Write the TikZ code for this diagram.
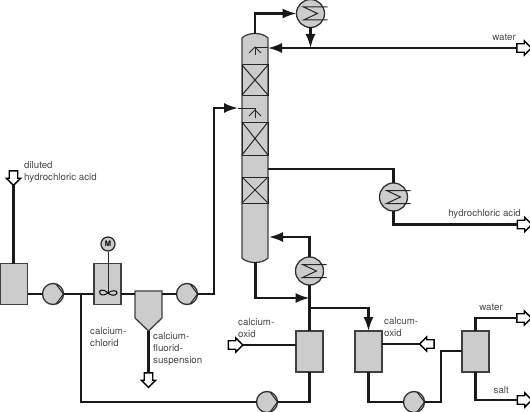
\documentclass[tikz,border=0pt]{standalone}
\usepackage{fontspec}
\setmainfont{TeX Gyre Heros}
\usetikzlibrary{positioning,arrows.meta,calc,shapes.arrows}
\definecolor{vesselgray}{RGB}{204,204,204}
\definecolor{labelgray}{RGB}{70,70,70}
\tikzset{
  pipe/.style={line width=2.1pt,black!90},
  feedpipe/.style={pipe,-{Latex[length=14pt,width=10pt]}},
  thinline/.style={line width=1pt,black!85},
  vessel/.style={draw=black!75,line width=1.3pt,fill=vesselgray,minimum width=27pt,minimum height=41pt,inner sep=0pt,outer sep=0pt},
  exchanger/.style={circle,draw=black!80,line width=1.3pt,fill=vesselgray,minimum size=28pt,inner sep=0pt,outer sep=0pt},
  pumpbody/.style={circle,draw=black!80,line width=1.3pt,fill=vesselgray,minimum size=21pt,inner sep=0pt,outer sep=0pt},
  openarrow/.style={single arrow,draw=black,fill=white,line width=1.3pt,inner sep=3.6pt,minimum height=14.5pt,minimum width=13pt,single arrow head extend=2.8pt,outer sep=0pt},
  streamlabel/.style={font=\fontsize{9.7}{12}\selectfont,text=labelgray,align=left,inner sep=0pt}
}
\begin{document}
\begin{tikzpicture}[x=1pt,y=-1pt]
  \useasboundingbox (0,0) rectangle (530,412);

  % Column
  \filldraw[fill=vesselgray,draw=black!75,line width=1.3pt]
    (242,38) .. controls (248,32) and (262,32) .. (268,38) -- (268,258)
    .. controls (262,264) and (248,264) .. (242,258) -- cycle;
  \foreach \a/\b in {65/95,122/155,177/203}{
    \draw[thinline] (242,\a) rectangle (268,\b);
    \draw[thinline] (242,\a) -- (268,\b) (242,\b) -- (268,\a);
  }
  \coordinate (columntop) at (255,34);
  \coordinate (columnbottom) at (255.5,262);
  \coordinate (refluxin) at (268,48);
  \coordinate (feedin) at (242,108);
  \coordinate (sidedraw) at (268,169);
  \coordinate (boilin) at (269,237);

  % Distributors
  \foreach \c in {50,113}{
    \draw[thinline] (255,\c+5) -- (255,\c-3);
    \draw[thinline] (249,\c+3) -- (255,\c-3) -- (261,\c+3);
  }
  \draw[thinline] (refluxin) -- (255,48) -- (255,50);
  \draw[thinline] (feedin) -- (255,108) -- (255,110);

  % Vessels
  \node (feedtank) [vessel] at (14,284) {};
  \node (mixer) [vessel] at (107.5,284) {};
  \node (reactora) [vessel] at (309.5,351.5) {};
  \node (reactorb) [vessel] at (368.5,351.5) {};
  \node (reactorc) [vessel] at (475.5,351.5) {};

  % Settler
  \filldraw[fill=vesselgray,draw=black!75,line width=1.3pt]
    (135,291) -- (162,291) -- (162,318) -- (148.5,331) -- (135,318) -- cycle;
  \coordinate (settlerin) at (135,294);
  \coordinate (settlerout) at (162,294);
  \coordinate (settlertip) at (148.5,331);

  % Exchangers and pumps
  \node (condenser) [exchanger] at (310.5,13.5) {};
  \node (cooler) [exchanger] at (393.5,197) {};
  \node (reboiler) [exchanger] at (309.5,271) {};
  \node (pumpa) [pumpbody] at (53,294) {};
  \node (pumpb) [pumpbody] at (187,294) {};
  \node (pumpc) [pumpbody] at (267,402) {};
  \node (pumpd) [pumpbody] at (414,402) {};
  \foreach \e in {condenser,cooler,reboiler}{
    \draw[thinline] ($(\e)+(17,-6.5)$) -- ($(\e)+(-7,-6.5)$) -- ($(\e)+(7,0)$)
      -- ($(\e)+(-7,6.5)$) -- ($(\e)+(17,6.5)$);
  }
  \foreach \p in {pumpa,pumpb,pumpc,pumpd}{
    \draw[thinline] ($(\p)+(3,-10)$) -- (\p.east) -- ($(\p)+(3,10)$);
  }

  % Agitator
  \node (motor) [circle,draw=black!85,line width=1.2pt,fill=vesselgray,minimum size=14pt,inner sep=0pt,font=\fontsize{7.5}{8}\selectfont\bfseries] at (108,244) {M};
  \coordinate (impeller) at (108,293);
  \draw[thinline] (motor.south) -- (impeller);
  \draw[line width=1pt,black] (impeller)
    .. controls (103,288) and (98,290) .. (100,293.5) .. controls (102,296) and (105,295) .. (impeller)
    .. controls (111,290) and (118,290) .. (117,293) .. controls (116,296) and (111,296) .. (impeller);

  % Open arrows
  \node (acidin) [openarrow,shape border rotate=270] at (13.5,176) {};
  \node (suspout) [openarrow,shape border rotate=270] at (148.5,378) {};
  \node (wateroutA) [openarrow] at (522,48) {};
  \node (acidout) [openarrow] at (522.5,224.5) {};
  \node (oxidinA) [openarrow] at (233.5,345) {};
  \node (oxidinB) [openarrow,shape border rotate=180] at (429,344) {};
  \node (wateroutB) [openarrow] at (522,318) {};
  \node (saltout) [openarrow] at (522.5,400) {};

  % Left part
  \draw[pipe] (acidin.tip) -- (feedtank.north -| acidin.tip);
  \draw[pipe] (feedtank.east |- pumpa) -- (pumpa.west);
  \draw[pipe] (pumpa.east) -- (mixer.west |- pumpa);
  \draw[pipe] (mixer.east |- settlerin) -- (settlerin);
  \draw[pipe] (settlerout) -- (pumpb.west);
  \draw[pipe] (settlertip) -- (suspout.tail);
  \coordinate (branch) at (81,294);
  \draw[pipe] (branch) |- (pumpc.west);
  \draw[feedpipe] (pumpb.east) -- (214,294) |- (238,108);
  \draw[thinline] (238,108) -- (feedin);

  % Column periphery
  \draw[feedpipe] (columntop) |- (condenser.west);
  \coordinate (refluxjoin) at (condenser.south |- refluxin);
  \draw[feedpipe] (condenser.south) -- (refluxjoin);
  \draw[feedpipe] (wateroutA.tail) -- (refluxin);
  \draw[pipe] (sidedraw) -| (cooler.north);
  \draw[pipe] (cooler.south) |- (acidout.tail);
  \draw[feedpipe] (reboiler.north) |- (boilin);
  \coordinate (reboilerjoin) at (reboiler.south |- 0,298);
  \draw[feedpipe] (columnbottom) |- (reboilerjoin);
  \draw[pipe] (reboiler.south) -- (reactora.north);
  \coordinate (splita) at (reboiler.south |- 0,308);
  \draw[feedpipe] (splita) -| (reactorb.north);

  % Right part
  \draw[pipe] (oxidinA.tip) -- (reactora.west |- oxidinA);
  \draw[pipe] (reactora.south) |- (pumpc.east);
  \draw[pipe] (reactorb.east |- oxidinB) -- (oxidinB.tip);
  \draw[pipe] (reactorb.south) |- (pumpd.west);
  \draw[pipe] (pumpd.east) -- (441,402) |- (reactorc.west |- 0,351);
  \draw[pipe] (reactorc.north) |- (wateroutB.tail);
  \draw[pipe] (reactorc.south) |- (saltout.tail);

  % Labels
  \node (labdiluted) [streamlabel,anchor=north west] at (24,161) {diluted\\hydrochloric acid};
  \node (labchlorid) [streamlabel,anchor=north west] at (90,327) {calcium-\\chlorid};
  \node (labfluorid) [streamlabel,anchor=north west] at (153,332) {calcium-\\fluorid-\\suspension};
  \node (laboxida) [streamlabel,anchor=north west] at (238,318) {calcium-\\oxid};
  \node (laboxidb) [streamlabel,anchor=north west] at (384,317) {calcum-\\oxid};
  \node (labwatera) [streamlabel,anchor=base east] at (516,41) {water};
  \node (labacid) [streamlabel,anchor=base east] at (521,216) {hydrochloric acid};
  \node (labwaterb) [streamlabel,anchor=base east] at (503,310) {water};
  \node (labsalt) [streamlabel,anchor=base east] at (509,393) {salt};
\end{tikzpicture}
\end{document}
